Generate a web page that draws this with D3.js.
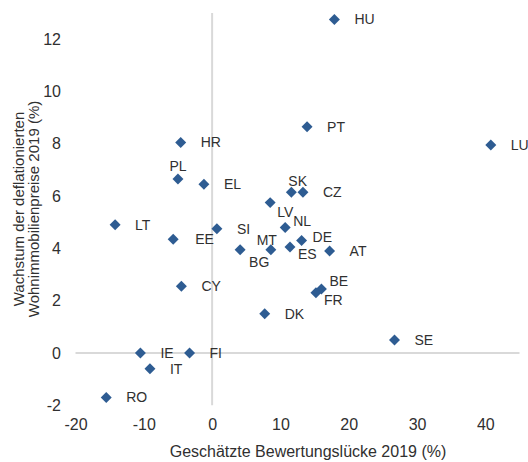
<!DOCTYPE html>
<html>
<head>
<meta charset="utf-8">
<script src="https://cdn.jsdelivr.net/npm/d3@7"></script>
<style>
  body { margin: 0; background: #fff; }
  svg text { font-family: "Liberation Sans", Arial, sans-serif; fill: #303030; }
</style>
</head>
<body>
<div class="chart"></div>
<script>
// Länder und Werte
const countries = ["HU", "PT", "LU", "HR", "PL", "EL", "SK", "CZ", "LV", "LT", "SI", "NL", "EE", "MT", "BG", "DE", "ES", "AT", "CY", "BE", "FR", "DK", "SE", "IE", "FI", "IT", "RO"];
const valuationGap = [17.9, 13.9, 40.8, -4.6, -5.0, -1.2, 11.6, 13.3, 8.5, -14.2, 0.7, 10.7, -5.7, 8.6, 4.1, 13.1, 11.4, 17.2, -4.5, 16.0, 15.2, 7.7, 26.7, -10.5, -3.3, -9.1, -15.5];
const priceGrowth = [12.75, 8.65, 7.95, 8.05, 6.65, 6.45, 6.15, 6.15, 5.75, 4.9, 4.75, 4.8, 4.35, 3.95, 3.95, 4.3, 4.05, 3.9, 2.55, 2.45, 2.3, 1.5, 0.5, 0.0, 0.0, -0.6, -1.7];
const xTicks = [-20, -10, 0, 10, 20, 30, 40];
const yTicks = [-2, 0, 2, 4, 6, 8, 10, 12];

// Beschriftungsversatz (nur Layout)
const labelPos = {
  PL: { dx: 0, dy: -13, anchor: "middle" },
  SK: { dx: -3, dy: -11 },
  LV: { dx: 7, dy: 9 },
  NL: { dx: 8, dy: -6 },
  MT: { dx: 6, dy: -10, anchor: "end" },
  BG: { dx: 9, dy: 12 },
  DE: { dx: 11, dy: -3 },
  ES: { dx: 8, dy: 7 },
  BE: { dx: 8, dy: -8 },
  FR: { dx: 8, dy: 7 },
  EE: { dx: 22, dy: 0 }
};

const data = countries.map((c, i) => ({ c: c, x: valuationGap[i], y: priceGrowth[i] }));

const width = 528, height = 462;

const svg = d3.select(".chart")
  .append("svg")
  .attr("width", width)
  .attr("height", height);

const x = d3.scaleLinear().domain([-20, 45]).range([75.5, 519.5]);
const y = d3.scaleLinear().domain([-2, 13]).range([405.3, 13]);

// Nulllinien
svg.append("line")
  .attr("x1", x(-20)).attr("x2", x(45))
  .attr("y1", y(0)).attr("y2", y(0))
  .attr("stroke", "#d9d9d9").attr("stroke-width", 2);
svg.append("line")
  .attr("x1", x(0)).attr("x2", x(0))
  .attr("y1", y(-2)).attr("y2", y(13))
  .attr("stroke", "#d9d9d9").attr("stroke-width", 2);

// Achsen (nur Beschriftung), Minus als Bindestrich wie im Original
const fmt = d => String(d);

const yAxis = svg.append("g")
  .attr("transform", "translate(65,0)")
  .call(d3.axisLeft(y).tickValues(yTicks).tickSize(0).tickPadding(4).tickFormat(fmt));
yAxis.select(".domain").remove();
yAxis.selectAll("text").style("font-size", "16px").attr("fill", null);

const xAxis = svg.append("g")
  .attr("transform", "translate(0,416)")
  .call(d3.axisBottom(x).tickValues(xTicks).tickSize(0).tickPadding(3).tickFormat(fmt));
xAxis.select(".domain").remove();
xAxis.selectAll("text").style("font-size", "16px").attr("fill", null);

// Achsentitel
svg.append("text")
  .attr("x", 308).attr("y", 457)
  .attr("text-anchor", "middle")
  .style("font-size", "16px")
  .text("Geschätzte Bewertungslücke 2019 (%)");

const yTitle = svg.append("text")
  .attr("transform", "translate(0,209) rotate(-90)")
  .attr("text-anchor", "middle")
  .style("font-size", "15px");
yTitle.append("tspan").attr("x", 0).attr("y", 24).text("Wachstum der deflationierten");
yTitle.append("tspan").attr("x", 0).attr("y", 39).text("Wohnimmobilienpreise 2019 (%)");

// Punkte
svg.selectAll("path.pt")
  .data(data)
  .enter()
  .append("path")
  .attr("class", "pt")
  .attr("d", d3.symbol().type(d3.symbolSquare).size(60))
  .attr("transform", d => `translate(${x(d.x)},${y(d.y)}) rotate(45)`)
  .attr("fill", "#2e5c92");

// Länderkürzel
svg.selectAll("text.lbl")
  .data(data)
  .enter()
  .append("text")
  .attr("class", "lbl")
  .attr("x", d => x(d.x) + (labelPos[d.c] ? labelPos[d.c].dx : 20))
  .attr("y", d => y(d.y) + (labelPos[d.c] ? labelPos[d.c].dy : 0))
  .attr("dy", "0.35em")
  .attr("text-anchor", d => labelPos[d.c] && labelPos[d.c].anchor ? labelPos[d.c].anchor : "start")
  .style("font-size", "14px")
  .text(d => d.c);
</script>
</body>
</html>
